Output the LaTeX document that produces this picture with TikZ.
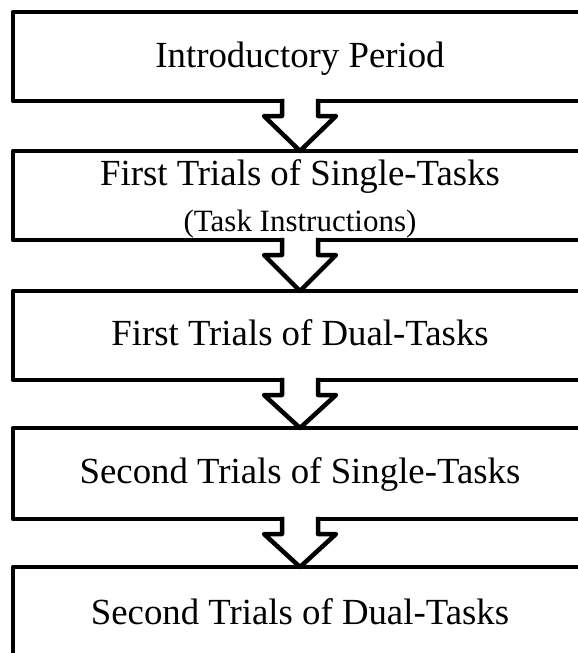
\documentclass[tikz,border=0pt]{standalone}
\usepackage{fontspec}
\setmainfont{Liberation Serif}
\usetikzlibrary{calc}
\begin{document}
\begin{tikzpicture}[x=1pt,y=-1pt,
  stagebox/.style={draw=black,line width=4.5pt,line join=round,minimum width=574pt,inner sep=0pt,outer sep=0pt},
  bigtext/.style={font=\fontsize{36.8}{44}\selectfont,anchor=base,inner sep=0pt},
  smalltext/.style={font=\fontsize{31}{37}\selectfont,anchor=base,inner sep=0pt},
  flowarrow/.style={draw=black,line width=4.5pt,line join=round,line cap=rect}]
\useasboundingbox (0,0) rectangle (578,653);
\clip (0,0) rectangle (578,653);
\fill[white] (0,0) rectangle (578,653);
\node[stagebox,minimum height=89pt] (b1) at (300,56.5) {};
\node[stagebox,minimum height=89pt] (b2) at (300,195.5) {};
\node[stagebox,minimum height=89pt] (b3) at (300,335.5) {};
\node[stagebox,minimum height=91pt] (b4) at (300,473.5) {};
\node[stagebox,minimum height=89pt] (b5) at (300,611.5) {};
\node[bigtext] (t1) at (300,67) {Introductory Period};
\node[bigtext] (t2) at (300,185) {First Trials of Single-Tasks};
\node[smalltext] (t2s) at (300,231) {(Task Instructions)};
\node[bigtext] (t3) at (300,345) {First Trials of Dual-Tasks};
\node[bigtext] (t4) at (300,483) {Second Trials of Single-Tasks};
\node[bigtext] (t5) at (300,624) {Second Trials of Dual-Tasks};
\foreach \a/\b in {b1/b2,b2/b3,b3/b4,b4/b5}{
  \fill[white] ($(\a.south)+(-18,-3)$) -- ($(\a.south)+(-18,15)$) -- ($(\a.south)+(-36,15)$) -- (\b.north) -- ($(\a.south)+(36,15)$) -- ($(\a.south)+(18,15)$) -- ($(\a.south)+(18,-3)$) -- cycle;
  \draw[flowarrow] ($(\a.south)+(-18,0)$) -- ($(\a.south)+(-18,15)$) -- ($(\a.south)+(-36,15)$) -- (\b.north) -- ($(\a.south)+(36,15)$) -- ($(\a.south)+(18,15)$) -- ($(\a.south)+(18,0)$);
}
\end{tikzpicture}
\end{document}
